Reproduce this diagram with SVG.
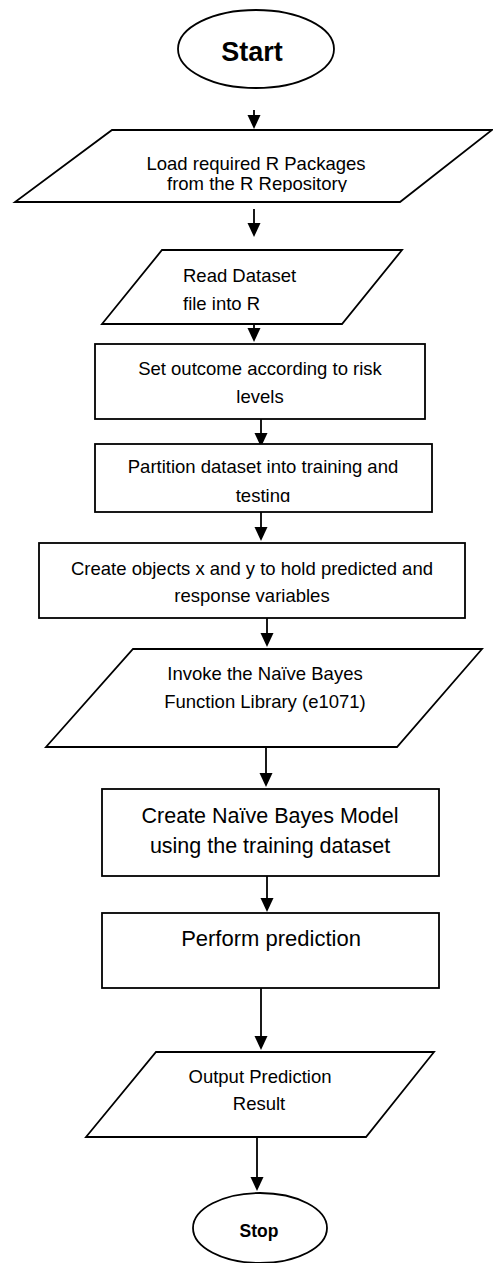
<svg xmlns="http://www.w3.org/2000/svg" width="493" height="1263" viewBox="0 0 493 1263">
<style>
.s{fill:#fff;stroke:#000;stroke-width:1.8}
.t{font-family:"Liberation Sans",Arial,sans-serif;font-size:18.5px;fill:#000}
.c{text-anchor:middle}
.b{font-weight:bold}
.e{stroke:#000;stroke-width:1.8;fill:none;marker-end:url(#ah)}
</style>
<defs>
<marker id="ah" markerUnits="userSpaceOnUse" markerWidth="16" markerHeight="16" refX="1" refY="6.5" orient="auto">
<path d="M0,0 L14,6.5 L0,13 z" fill="#000"/>
</marker>
<clipPath id="cl1"><rect x="0" y="130" width="493" height="62"/></clipPath>
<clipPath id="cl4"><rect x="0" y="444" width="493" height="58"/></clipPath>
</defs>
<g id="connectors">
<line class="e" x1="254" y1="110" x2="254" y2="116"/>
<line class="e" x1="254" y1="209" x2="254" y2="224"/>
<line class="e" x1="254" y1="314" x2="254" y2="329"/>
<line class="e" x1="261" y1="419" x2="261" y2="434"/>
<line class="e" x1="261" y1="512" x2="261" y2="528"/>
<line class="e" x1="267" y1="618" x2="267" y2="634"/>
<line class="e" x1="266" y1="747" x2="266" y2="774"/>
<line class="e" x1="267" y1="873" x2="267" y2="899"/>
<line class="e" x1="261" y1="988" x2="261" y2="1037"/>
<line class="e" x1="257" y1="1137" x2="257" y2="1178"/>
</g>
<g id="start">
<ellipse class="s" cx="256" cy="49" rx="78" ry="39"/>
<text class="t c b" x="252" y="61" style="font-size:27px">Start</text>
</g>
<g id="load">
<polygon class="s" points="112,130 492,130 400,202 15,202"/>
<g clip-path="url(#cl1)">
<text class="t c" x="256" y="170">Load required R Packages</text>
<text class="t c" x="257" y="190">from the R Repository</text>
</g>
</g>
<g id="read">
<polygon class="s" points="162,250 402,250 342,324 102,324"/>
<text class="t" x="183" y="282">Read Dataset</text>
<text class="t" x="183" y="310">file into R</text>
</g>
<g id="outcome">
<rect class="s" x="95" y="344" width="330" height="75"/>
<text class="t c" x="260" y="375">Set outcome according to risk</text>
<text class="t c" x="260" y="403">levels</text>
</g>
<g id="partition">
<rect class="s" x="95" y="444" width="337" height="68"/>
<g clip-path="url(#cl4)">
<text class="t c" x="263" y="473">Partition dataset into training and</text>
<text class="t c" x="263" y="502">testing</text>
</g>
</g>
<g id="objects">
<rect class="s" x="39" y="543" width="426" height="75"/>
<text class="t c" x="252" y="575">Create objects x and y to hold predicted and</text>
<text class="t c" x="252" y="602">response variables</text>
</g>
<g id="invoke">
<polygon class="s" points="133,649 482,649 397,747 46,747"/>
<text class="t c" x="265" y="680">Invoke the Naïve Bayes</text>
<text class="t c" x="265" y="708">Function Library (e1071)</text>
</g>
<g id="model">
<rect class="s" x="102" y="789" width="337" height="87"/>
<text class="t c" x="270" y="823" style="font-size:21.5px">Create Naïve Bayes Model</text>
<text class="t c" x="270" y="853" style="font-size:21.5px">using the training dataset</text>
</g>
<g id="predict">
<rect class="s" x="102" y="913" width="337" height="75"/>
<text class="t c" x="271" y="946" style="font-size:22px">Perform prediction</text>
</g>
<g id="output">
<polygon class="s" points="156,1052 434,1052 366,1137 86,1137"/>
<text class="t c" x="260" y="1083">Output Prediction</text>
<text class="t c" x="259" y="1110">Result</text>
</g>
<g id="stop">
<ellipse class="s" cx="260" cy="1228" rx="67" ry="35"/>
<text class="t c b" x="259" y="1237" style="font-size:17.5px">Stop</text>
</g>
</svg>
